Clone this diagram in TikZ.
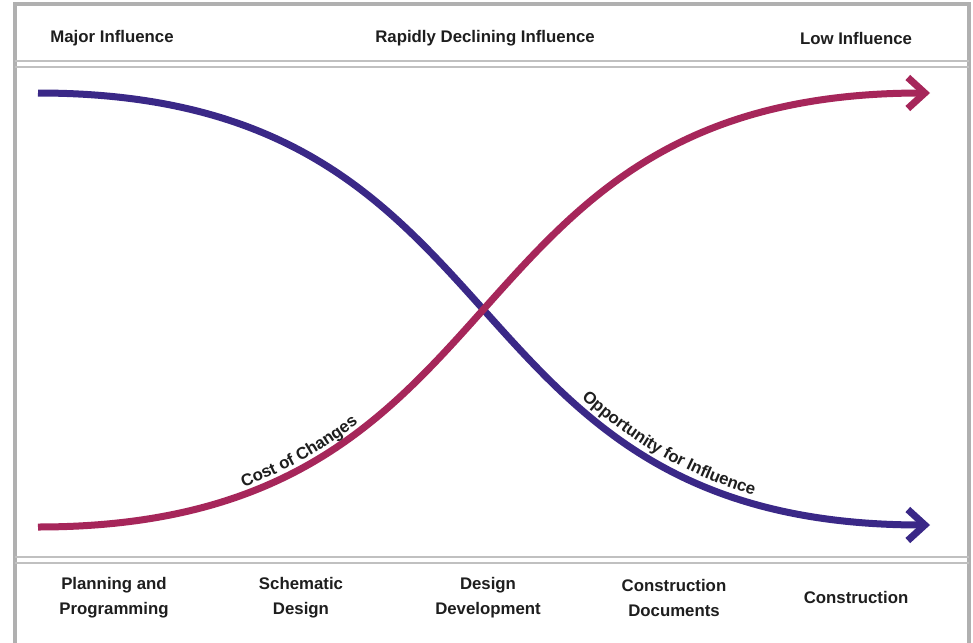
\documentclass[tikz,border=0pt]{standalone}
\usepackage{fontspec}
\setmainfont{Liberation Sans}
\usetikzlibrary{arrows.meta,decorations.text}
\definecolor{infblue}{RGB}{58,40,135}
\definecolor{costred}{RGB}{166,38,90}
\definecolor{framegray}{RGB}{176,176,176}
\definecolor{sepgray}{RGB}{192,192,192}
\definecolor{txt}{RGB}{30,30,30}
\begin{document}
\begin{tikzpicture}[x=1pt,y=-1pt,
  lbl/.style={font=\fontsize{16.8}{25}\selectfont\bfseries, align=center, text=txt, inner sep=0pt},
  curve/.style={line width=7pt, -{Straight Barb[length=17pt,width=31pt]}},
  frameline/.style={draw=framegray, line width=3.5pt},
  sepline/.style={draw=sepgray, line width=1.6pt}]
\useasboundingbox (0,0) rectangle (973,642);
\fill[white] (0,0) rectangle (973,642);
% frame
\coordinate (fbl) at (15,650);
\coordinate (ftl) at (15,4);
\coordinate (ftr) at (969,4);
\coordinate (fbr) at (969,650);
\draw[frameline] (fbl) -- (ftl) -- (ftr) -- (fbr);
% separators
\coordinate (s1l) at (15,61);  \coordinate (s1r) at (969,61);
\coordinate (s2l) at (15,67);  \coordinate (s2r) at (969,67);
\coordinate (s3l) at (15,557); \coordinate (s3r) at (969,557);
\coordinate (s4l) at (15,563); \coordinate (s4r) at (969,563);
\draw[sepline] (s1l) -- (s1r);
\draw[sepline] (s2l) -- (s2r);
\draw[sepline] (s3l) -- (s3r);
\draw[sepline] (s4l) -- (s4r);
% top labels
\node[lbl] (major) at (112,38) {Major Influence};
\node[lbl] (rapid) at (485,38) {Rapidly Declining Influence};
\node[lbl] (low) at (856,38) {Low Influence};
% bottom labels
\node[lbl] (plan) at (114,598) {Planning and\\Programming};
\node[lbl] (schem) at (301,598) {Schematic\\Design};
\node[lbl] (ddev) at (488,598) {Design\\Development};
\node[lbl] (cdoc) at (674,598) {Construction\\Documents};
\node[lbl] (cons) at (856,597) {Construction};
% curves
\coordinate (bstart) at (38,93);
\coordinate (bend) at (930,525);
\coordinate (rstart) at (38,527);
\coordinate (rend) at (930,93);
\draw[curve, draw=infblue] (bstart) .. controls (538,93) and (430,525) .. (bend);
\draw[curve, draw=costred] (rstart) .. controls (538,527) and (430,93) .. (rend);
% curve labels
\path[decorate, decoration={text along path, raise=7pt,
   text={|\fontsize{16.8}{20}\selectfont\bfseries\color{txt}|Cost of Changes},
   text align={left indent=212pt}}]
   (rstart) .. controls (538,527) and (430,93) .. (rend);
\path[decorate, decoration={text along path, raise=7pt,
   text={|\fontsize{16.8}{20}\selectfont\bfseries\color{txt}|Opportunity for Influence},
   text align={left indent=648pt}}]
   (bstart) .. controls (538,93) and (430,525) .. (bend);
\end{tikzpicture}
\end{document}
